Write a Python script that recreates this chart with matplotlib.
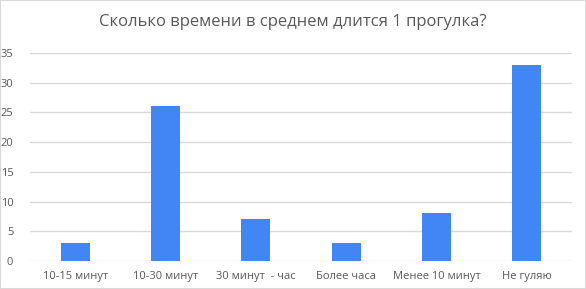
import matplotlib
matplotlib.use("Agg")
import matplotlib.pyplot as plt
from matplotlib.patches import Rectangle

categories = ["10-15 минут", "10-30 минут", "30 минут  - час", "Более часа", "Менее 10 минут", "Не гуляю"]
values = [3, 26, 7, 3, 8, 33]
yticks = [0, 5, 10, 15, 20, 25, 30, 35]

plt.rcParams['font.family'] = ['Open Sans', 'DejaVu Sans']

fig = plt.figure(figsize=(5.86, 2.89), dpi=100)
ax = fig.add_axes([30/586, 1 - 261/289, 542/586, (261 - 53)/289])

x = range(len(categories))
ax.bar(x, values, width=0.32, color="#4285F4", zorder=3)
ax.set_xlim(-0.5, len(categories) - 0.5)
ax.set_ylim(0, 35)
ax.set_yticks(yticks)
ax.set_xticks(list(x))
ax.set_xticklabels(categories)
ax.grid(axis="y", color="#d9d9d9", linewidth=1, zorder=0)
for s in ax.spines.values():
    s.set_visible(False)
ax.tick_params(length=0, colors="#595959", labelsize=8)
ax.tick_params(axis="x", pad=7)
ax.tick_params(axis="y", pad=12)

fig.text(0.5, 1 - 22/289, "Сколько времени в среднем длится 1 прогулка?",
         ha="center", va="center", fontsize=12, color="#595959")
fig.patches.append(Rectangle((0, 0), 1, 1, transform=fig.transFigure,
                             fill=False, edgecolor="#d9d9d9", linewidth=1.5))

fig.savefig("out.png", dpi=100)
